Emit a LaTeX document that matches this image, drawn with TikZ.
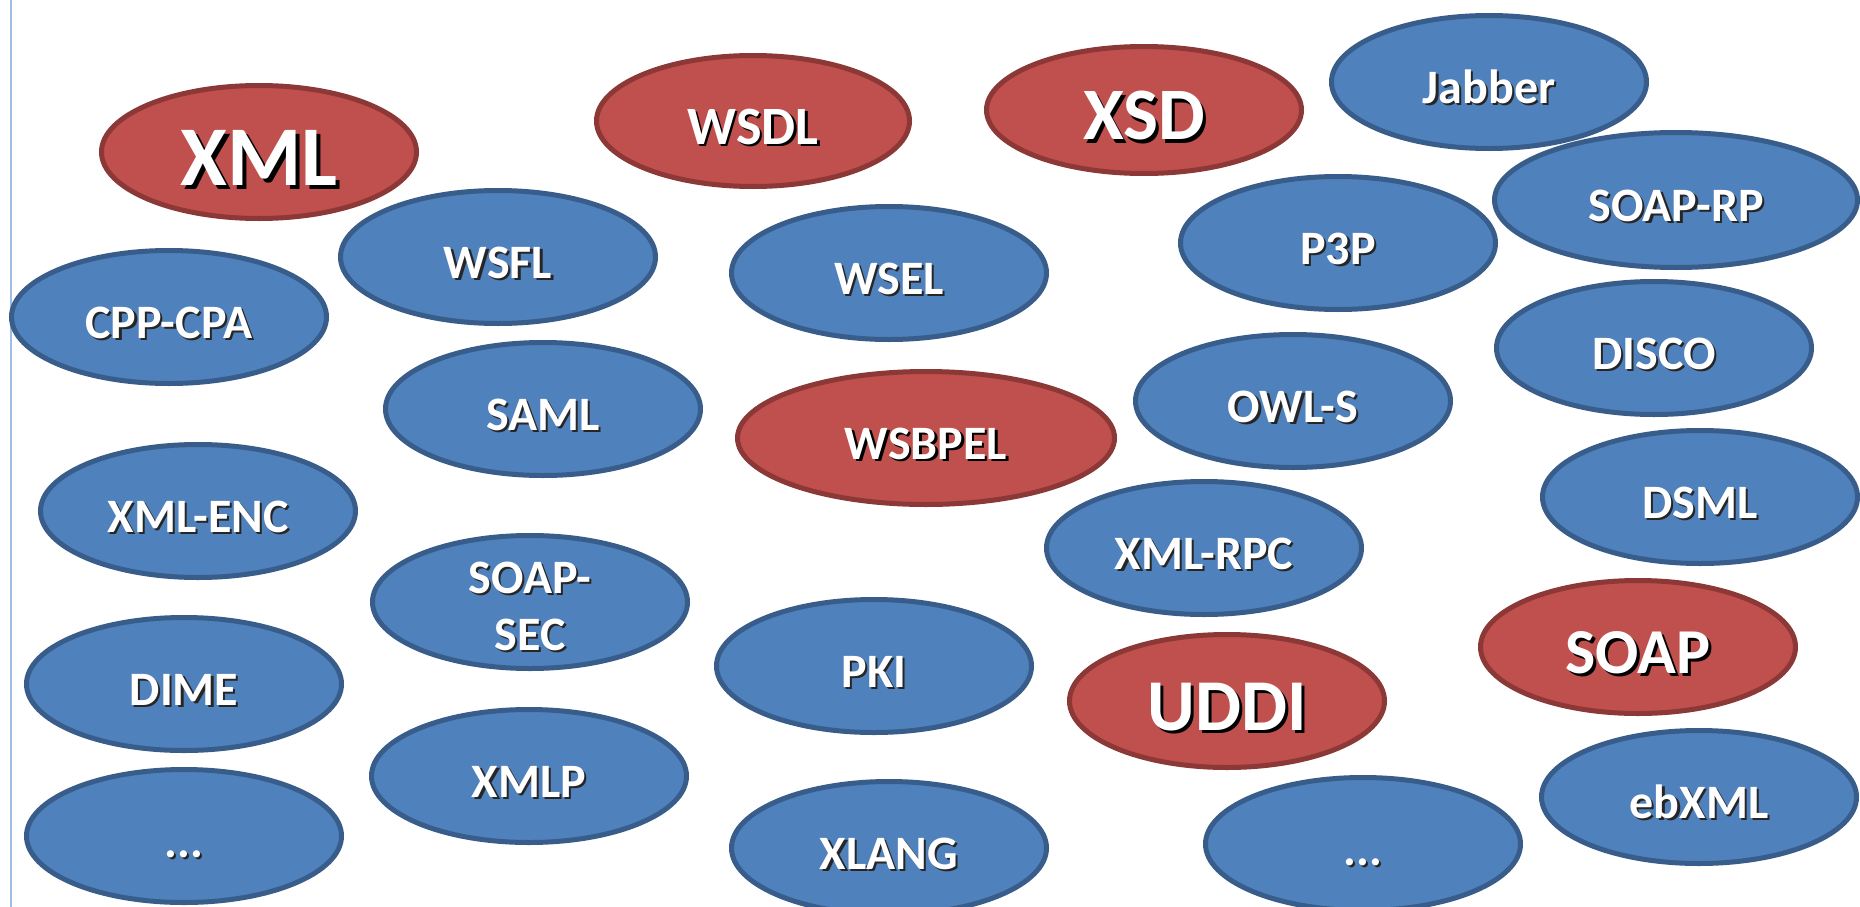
\documentclass[tikz,border=0pt]{standalone}
\usepackage{fontspec}
\setmainfont{Carlito}
\usetikzlibrary{shapes.geometric}

\definecolor{bluefill}{HTML}{4F81BD}
\definecolor{blueline}{HTML}{385D8A}
\definecolor{redfill}{HTML}{C0504D}
\definecolor{redline}{HTML}{8C3836}
\definecolor{edgeline}{RGB}{160,190,228}

\tikzset{
  bubble/.style={ellipse, inner sep=0pt, line width=5bp},
  bluebub/.style={bubble, draw=blueline, fill=bluefill},
  redbub/.style={bubble, draw=redline, fill=redfill},
  lbl/.style={inner sep=0pt, anchor=base, align=center},
}

% #1 name, #2 style, #3 x, #4 y, #5 x radius, #6 y radius, #7 font size (bp),
% #8 shadow colour, #9 label
\newcommand\bubble[9]{%
  \node[#2, minimum width={2*(#5-2.5)*1bp}, minimum height={2*(#6-2.5)*1bp}] (#1) at (#3,#4) {};
  \node[lbl, text=#8, font=\fontsize{#7bp}{#7bp}\selectfont\bfseries] (#1-s)
    at ([xshift={0.045*#7*1bp}, yshift={-(6+0.322*#7+0.045*#7)*1bp}]#1.center) {#9};
  \node[lbl, text=white, font=\fontsize{#7bp}{#7bp}\selectfont\bfseries] (#1-t)
    at ([yshift={-(6+0.322*#7)*1bp}]#1.center) {#9};
}

\begin{document}
\begin{tikzpicture}[x=1bp, y=-1bp]
  \useasboundingbox (0,0) rectangle (1860,907);
  \fill[white] (0,0) rectangle (1860,907);

  % page edge on the left
  \coordinate (edgetop) at (11,0);
  \coordinate (edgebot) at (11,907);
  \draw[edgeline, line width=1.5bp] (edgetop) -- (edgebot);

  % top row
  \bubble{xml}{redbub}{259}{152}{160}{69}{85}{black}{XML}
  \bubble{wsdl}{redbub}{753}{121}{159}{68}{54}{black}{WSDL}
  \bubble{xsd}{redbub}{1144}{110}{160}{66}{74}{black}{XSD}
  \bubble{jabber}{bluebub}{1489}{82}{160}{69}{48}{black!85}{Jabber}
  \bubble{soaprp}{bluebub}{1676}{200}{184}{70}{48}{black!85}{SOAP-RP}

  % second band
  \bubble{wsfl}{bluebub}{498}{257}{160}{69}{48}{black!85}{WSFL}
  \bubble{wsel}{bluebub}{889}{273}{160}{69}{48}{black!85}{WSEL}
  \bubble{p3p}{bluebub}{1338}{243}{160}{69}{48}{black!85}{P3P}
  \bubble{cppcpa}{bluebub}{169}{317}{160}{69}{48}{black!85}{CPP-CPA}
  \bubble{disco}{bluebub}{1654}{348}{160}{69}{48}{black!85}{DISCO}

  % middle band
  \bubble{saml}{bluebub}{543}{409}{160}{69}{48}{black!85}{SAML}
  \bubble{owls}{bluebub}{1293}{401}{160}{69}{48}{black!85}{OWL-S}
  \bubble{wsbpel}{redbub}{926}{438}{191}{69}{48}{black}{WSBPEL}
  \bubble{xmlenc}{bluebub}{198}{511}{160}{69}{48}{black!85}{XML-ENC}
  \bubble{dsml}{bluebub}{1700}{497}{160}{69}{48}{black!85}{DSML}
  \bubble{xmlrpc}{bluebub}{1204}{548}{160}{69}{48}{black!85}{XML-RPC}

  % two-line label (base anchor sits on the last line)
  \node[bluebub, minimum width=315bp, minimum height=133bp] (soapsec) at (530,602) {};
  \node[lbl, text=black!85, font=\fontsize{48bp}{57bp}\selectfont\bfseries] (soapsec-s)
    at ([xshift=2bp, yshift=-50bp]soapsec.center) {SOAP-\\SEC};
  \node[lbl, text=white, font=\fontsize{48bp}{57bp}\selectfont\bfseries] (soapsec-t)
    at ([yshift=-48bp]soapsec.center) {SOAP-\\SEC};

  % lower band
  \bubble{soap}{redbub}{1638}{647}{160}{69}{64}{black}{SOAP}
  \bubble{pki}{bluebub}{874}{666}{160}{69}{48}{black!85}{PKI}
  \bubble{dime}{bluebub}{184}{684}{160}{69}{48}{black!85}{DIME}
  \bubble{uddi}{redbub}{1227}{701}{160}{69}{73}{black}{UDDI}
  \bubble{xmlp}{bluebub}{529}{776}{160}{69}{48}{black!85}{XMLP}
  \bubble{ebxml}{bluebub}{1699}{797}{160}{69}{48}{black!85}{ebXML}

  % bottom row
  \bubble{moreleft}{bluebub}{184}{836}{160}{69}{48}{black!85}{...}
  \bubble{xlang}{bluebub}{889}{848}{160}{69}{48}{black!85}{XLANG}
  \bubble{moreright}{bluebub}{1363}{844}{160}{69}{48}{black!85}{...}
\end{tikzpicture}
\end{document}
